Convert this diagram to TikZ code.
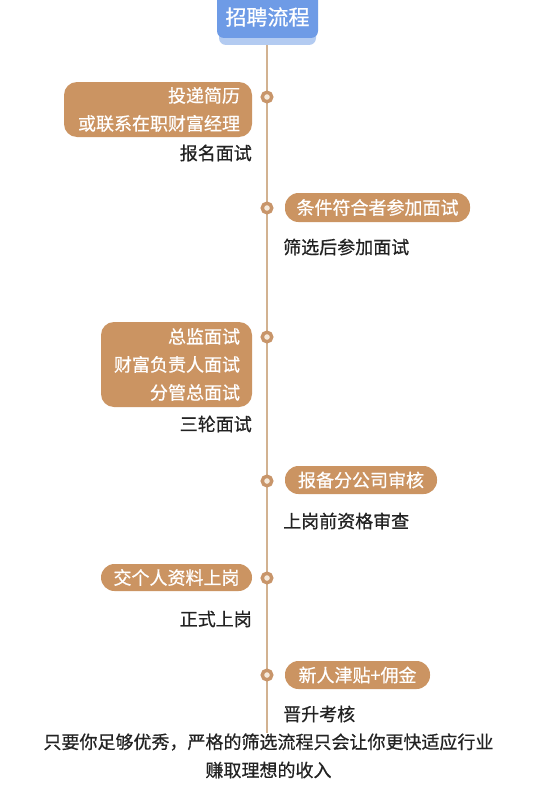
\documentclass[tikz,border=0pt]{standalone}
\usepackage{fontspec}
\newfontfamily\cjk[FakeBold=0.6]{Noto Sans CJK SC}
\definecolor{boxc}{HTML}{CB9462}
\definecolor{linec}{HTML}{D2B291}
\definecolor{dotc}{HTML}{C8956A}
\definecolor{dotin}{HTML}{F6EADC}
\definecolor{titlec}{HTML}{6E9BE6}
\definecolor{titlesh}{HTML}{B3CBF1}
\definecolor{txt}{HTML}{222222}
\begin{document}
\begin{tikzpicture}[x=1pt,y=-1pt,
  box/.style={fill=boxc, rounded corners=13pt, text=white, inner xsep=12pt, inner ysep=0pt,
    font=\cjk\fontsize{18}{28}\selectfont, align=right},
  pill/.style={fill=boxc, rounded corners=13.5pt, text=white, inner sep=0pt,
    font=\cjk\fontsize{18}{20}\selectfont},
  lbl/.style={text=txt, inner sep=0pt, font=\cjk\fontsize{18}{20}\selectfont},
  dot/.style={circle, draw=dotc, line width=3.4pt, fill=dotin, minimum size=9.5pt, inner sep=0pt},
  conn/.style={draw=linec, line width=1.6pt}
]
\useasboundingbox (0,0) rectangle (536,800);
\fill[white] (0,0) rectangle (536,800);
% title
\fill[titlesh, rounded corners=7pt] (219,-10) rectangle (316,45);
\node[fill=titlec, rounded corners=7pt, minimum width=101pt, minimum height=46pt, inner sep=0pt] (tb) at (267.5,15) {};
\node[text=white, inner sep=0pt, font=\cjk\fontsize{21}{24}\selectfont] (t) at (267.5,17) {招聘流程};
% line
\coordinate (lend) at (267,733);
\draw[conn] (267,45) -- (lend);
% dots
\node[dot] (d1) at (267,97) {};
\node[dot] (d2) at (267,208) {};
\node[dot] (d3) at (267,337) {};
\node[dot] (d4) at (267,481) {};
\node[dot] (d5) at (267,578) {};
\node[dot] (d6) at (267,675) {};
% boxes
\node[box, text width=164pt, minimum height=55pt] (b1) at (158,109.5) {投递简历\\或联系在职财富经理};
\node[box, text width=127pt, minimum height=85pt] (b3) at (176.5,364.5) {总监面试\\财富负责人面试\\分管总面试};
\node[pill, minimum width=185pt, minimum height=29pt] (b2) at (377.5,207.5) {条件符合者参加面试};
\node[pill, minimum width=152pt, minimum height=28pt] (b4) at (361,480) {报备分公司审核};
\node[pill, minimum width=151pt, minimum height=27pt] (b5) at (176.5,577.5) {交个人资料上岗};
\node[pill, minimum width=145pt, minimum height=28pt] (b6) at (357.5,675) {新人津贴+佣金};
% labels
\node[lbl, anchor=east] (l1) at (252,153) {报名面试};
\node[lbl, anchor=west] (l2) at (283,247) {筛选后参加面试};
\node[lbl, anchor=east] (l3) at (252,424) {三轮面试};
\node[lbl, anchor=west] (l4) at (283,521) {上岗前资格审查};
\node[lbl, anchor=east] (l5) at (252,619) {正式上岗};
\node[lbl, anchor=west] (l6) at (283,714) {晋升考核};
% footer
\node[lbl] (f1) at (268.5,742) {只要你足够优秀，严格的筛选流程只会让你更快适应行业};
\node[lbl] (f2) at (268.5,770) {赚取理想的收入};
\end{tikzpicture}
\end{document}
